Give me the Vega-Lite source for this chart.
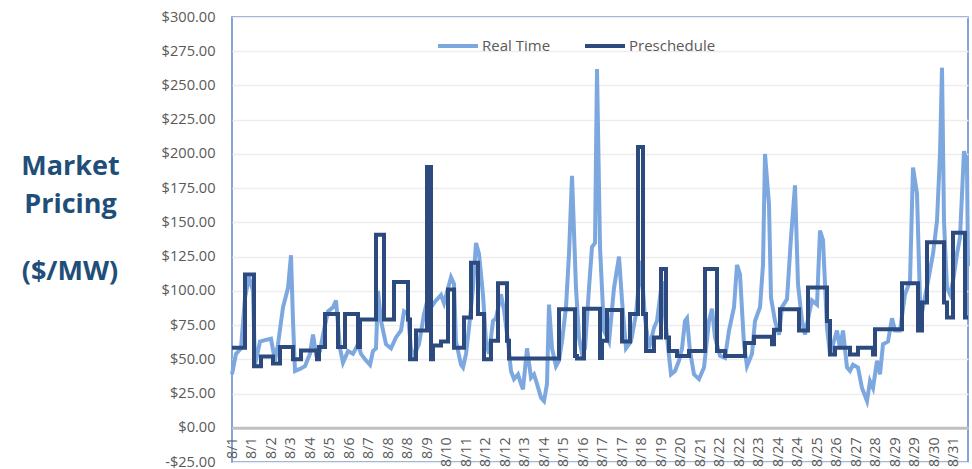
{
  "$schema": "https://vega.github.io/schema/vega-lite/v6.json",
  "width": 736,
  "height": 445,
  "autosize": {"type": "none"},
  "padding": {"left": 232, "top": 17, "right": 4, "bottom": 7},
  "background": "white",
  "config": {
    "view": {"stroke": "#5B87C8", "strokeWidth": 1.5},
    "font": "Open Sans"
  },
  "title": {
    "text": "($/MW)",
    "orient": "top",
    "anchor": "start",
    "frame": "group",
    "align": "center",
    "baseline": "alphabetic",
    "offset": 0,
    "dx": -162,
    "dy": 298,
    "font": "Open Sans",
    "fontSize": 27,
    "fontWeight": "bold",
    "color": "#1F4E79"
  },
  "data": {
    "values": [
      {"hour":0,"series":"Real Time","price":39},{"hour":4,"series":"Real Time","price":54},{"hour":9,"series":"Real Time","price":58},{"hour":13,"series":"Real Time","price":95},{"hour":17,"series":"Real Time","price":110},{"hour":21,"series":"Real Time","price":100},{"hour":23,"series":"Real Time","price":46},{"hour":28,"series":"Real Time","price":63},{"hour":33,"series":"Real Time","price":64},{"hour":39,"series":"Real Time","price":65},{"hour":43,"series":"Real Time","price":49},{"hour":46,"series":"Real Time","price":61},{"hour":51,"series":"Real Time","price":88},{"hour":56,"series":"Real Time","price":102},{"hour":59,"series":"Real Time","price":126},{"hour":61,"series":"Real Time","price":78},{"hour":63,"series":"Real Time","price":41.5},{"hour":68,"series":"Real Time","price":43},{"hour":73,"series":"Real Time","price":45},{"hour":78,"series":"Real Time","price":54},{"hour":81,"series":"Real Time","price":68},{"hour":84,"series":"Real Time","price":54},{"hour":88,"series":"Real Time","price":56},{"hour":91,"series":"Real Time","price":68},{"hour":96,"series":"Real Time","price":85},{"hour":101,"series":"Real Time","price":88},{"hour":104,"series":"Real Time","price":93},{"hour":108,"series":"Real Time","price":58},{"hour":111,"series":"Real Time","price":47.5},{"hour":116,"series":"Real Time","price":56},{"hour":121,"series":"Real Time","price":54},{"hour":126,"series":"Real Time","price":61},{"hour":129,"series":"Real Time","price":54},{"hour":133,"series":"Real Time","price":50},{"hour":138,"series":"Real Time","price":46},{"hour":141,"series":"Real Time","price":56},{"hour":144,"series":"Real Time","price":58},{"hour":146,"series":"Real Time","price":100},{"hour":149,"series":"Real Time","price":78},{"hour":154,"series":"Real Time","price":61},{"hour":159,"series":"Real Time","price":58},{"hour":164,"series":"Real Time","price":66},{"hour":169,"series":"Real Time","price":71},{"hour":172,"series":"Real Time","price":85},{"hour":176,"series":"Real Time","price":83},{"hour":179,"series":"Real Time","price":58},{"hour":182,"series":"Real Time","price":52.5},{"hour":187,"series":"Real Time","price":61},{"hour":192,"series":"Real Time","price":83},{"hour":196,"series":"Real Time","price":95},{"hour":199,"series":"Real Time","price":88},{"hour":204,"series":"Real Time","price":93},{"hour":209,"series":"Real Time","price":97},{"hour":212,"series":"Real Time","price":91},{"hour":219,"series":"Real Time","price":110},{"hour":222,"series":"Real Time","price":105},{"hour":224,"series":"Real Time","price":63},{"hour":229,"series":"Real Time","price":46},{"hour":231,"series":"Real Time","price":44},{"hour":234,"series":"Real Time","price":54},{"hour":237,"series":"Real Time","price":73},{"hour":241,"series":"Real Time","price":102},{"hour":244,"series":"Real Time","price":135},{"hour":247,"series":"Real Time","price":127},{"hour":251,"series":"Real Time","price":97},{"hour":254,"series":"Real Time","price":63},{"hour":257,"series":"Real Time","price":54},{"hour":261,"series":"Real Time","price":78},{"hour":264,"series":"Real Time","price":80},{"hour":269,"series":"Real Time","price":97.5},{"hour":272,"series":"Real Time","price":86},{"hour":276,"series":"Real Time","price":63},{"hour":279,"series":"Real Time","price":41.5},{"hour":282,"series":"Real Time","price":35.5},{"hour":286,"series":"Real Time","price":39},{"hour":289,"series":"Real Time","price":32},{"hour":291,"series":"Real Time","price":28},{"hour":295,"series":"Real Time","price":58},{"hour":299,"series":"Real Time","price":36.6},{"hour":302,"series":"Real Time","price":39},{"hour":305,"series":"Real Time","price":32},{"hour":309,"series":"Real Time","price":22},{"hour":312,"series":"Real Time","price":19.5},{"hour":315,"series":"Real Time","price":32},{"hour":317,"series":"Real Time","price":90},{"hour":320,"series":"Real Time","price":58},{"hour":324,"series":"Real Time","price":45},{"hour":327,"series":"Real Time","price":49},{"hour":330,"series":"Real Time","price":63},{"hour":334,"series":"Real Time","price":88},{"hour":337,"series":"Real Time","price":127},{"hour":340,"series":"Real Time","price":184},{"hour":344,"series":"Real Time","price":102},{"hour":347,"series":"Real Time","price":66},{"hour":350,"series":"Real Time","price":54},{"hour":353,"series":"Real Time","price":58},{"hour":357,"series":"Real Time","price":102},{"hour":360,"series":"Real Time","price":132},{"hour":363,"series":"Real Time","price":135},{"hour":365,"series":"Real Time","price":262},{"hour":368,"series":"Real Time","price":132},{"hour":372,"series":"Real Time","price":71},{"hour":377,"series":"Real Time","price":63},{"hour":382,"series":"Real Time","price":102},{"hour":387,"series":"Real Time","price":125},{"hour":390,"series":"Real Time","price":93},{"hour":394,"series":"Real Time","price":58},{"hour":399,"series":"Real Time","price":63},{"hour":404,"series":"Real Time","price":83},{"hour":409,"series":"Real Time","price":122},{"hour":413,"series":"Real Time","price":80},{"hour":417,"series":"Real Time","price":58},{"hour":422,"series":"Real Time","price":73},{"hour":425,"series":"Real Time","price":78},{"hour":430,"series":"Real Time","price":107},{"hour":435,"series":"Real Time","price":66},{"hour":439,"series":"Real Time","price":39},{"hour":443,"series":"Real Time","price":41.5},{"hour":447,"series":"Real Time","price":49},{"hour":450,"series":"Real Time","price":58},{"hour":453,"series":"Real Time","price":78},{"hour":455,"series":"Real Time","price":80},{"hour":458,"series":"Real Time","price":56},{"hour":462,"series":"Real Time","price":39},{"hour":467,"series":"Real Time","price":35.5},{"hour":472,"series":"Real Time","price":44},{"hour":477,"series":"Real Time","price":78},{"hour":480,"series":"Real Time","price":87},{"hour":483,"series":"Real Time","price":66},{"hour":488,"series":"Real Time","price":52.5},{"hour":493,"series":"Real Time","price":51},{"hour":497,"series":"Real Time","price":71},{"hour":502,"series":"Real Time","price":88},{"hour":505,"series":"Real Time","price":119},{"hour":508,"series":"Real Time","price":112},{"hour":512,"series":"Real Time","price":61},{"hour":515,"series":"Real Time","price":45},{"hour":520,"series":"Real Time","price":54},{"hour":523,"series":"Real Time","price":78},{"hour":528,"series":"Real Time","price":88},{"hour":531,"series":"Real Time","price":119},{"hour":533,"series":"Real Time","price":200},{"hour":537,"series":"Real Time","price":163},{"hour":539,"series":"Real Time","price":95},{"hour":543,"series":"Real Time","price":78},{"hour":547,"series":"Real Time","price":68},{"hour":550,"series":"Real Time","price":88},{"hour":555,"series":"Real Time","price":94},{"hour":559,"series":"Real Time","price":139},{"hour":563,"series":"Real Time","price":177},{"hour":566,"series":"Real Time","price":105},{"hour":570,"series":"Real Time","price":78},{"hour":573,"series":"Real Time","price":68},{"hour":577,"series":"Real Time","price":83},{"hour":580,"series":"Real Time","price":93},{"hour":585,"series":"Real Time","price":90},{"hour":588,"series":"Real Time","price":144},{"hour":591,"series":"Real Time","price":137},{"hour":595,"series":"Real Time","price":73},{"hour":598,"series":"Real Time","price":54},{"hour":601,"series":"Real Time","price":61},{"hour":605,"series":"Real Time","price":71},{"hour":608,"series":"Real Time","price":58},{"hour":611,"series":"Real Time","price":71},{"hour":615,"series":"Real Time","price":44},{"hour":618,"series":"Real Time","price":41.5},{"hour":621,"series":"Real Time","price":46},{"hour":626,"series":"Real Time","price":44},{"hour":630,"series":"Real Time","price":29},{"hour":635,"series":"Real Time","price":19.5},{"hour":638,"series":"Real Time","price":34},{"hour":641,"series":"Real Time","price":29},{"hour":645,"series":"Real Time","price":49},{"hour":648,"series":"Real Time","price":39},{"hour":651,"series":"Real Time","price":61},{"hour":656,"series":"Real Time","price":63},{"hour":660,"series":"Real Time","price":80},{"hour":663,"series":"Real Time","price":71},{"hour":668,"series":"Real Time","price":71},{"hour":673,"series":"Real Time","price":97.5},{"hour":678,"series":"Real Time","price":107},{"hour":681,"series":"Real Time","price":190},{"hour":685,"series":"Real Time","price":171},{"hour":688,"series":"Real Time","price":93},{"hour":691,"series":"Real Time","price":88},{"hour":696,"series":"Real Time","price":107},{"hour":701,"series":"Real Time","price":127},{"hour":705,"series":"Real Time","price":151},{"hour":708,"series":"Real Time","price":200},{"hour":710,"series":"Real Time","price":263},{"hour":712,"series":"Real Time","price":151},{"hour":715,"series":"Real Time","price":102},{"hour":718,"series":"Real Time","price":97.5},{"hour":721,"series":"Real Time","price":107},{"hour":725,"series":"Real Time","price":127},{"hour":728,"series":"Real Time","price":139},{"hour":732,"series":"Real Time","price":202},{"hour":735,"series":"Real Time","price":193},{"hour":736,"series":"Real Time","price":118},
      {"hour":0,"series":"Preschedule","price":58.5},{"hour":13,"series":"Preschedule","price":112},{"hour":22,"series":"Preschedule","price":45},{"hour":29,"series":"Preschedule","price":52},{"hour":41,"series":"Preschedule","price":47},{"hour":48,"series":"Preschedule","price":59},{"hour":61,"series":"Preschedule","price":50},{"hour":69,"series":"Preschedule","price":56.5},{"hour":85,"series":"Preschedule","price":50},{"hour":87,"series":"Preschedule","price":59},{"hour":93,"series":"Preschedule","price":83},{"hour":106,"series":"Preschedule","price":59},{"hour":113,"series":"Preschedule","price":83},{"hour":126,"series":"Preschedule","price":59},{"hour":128,"series":"Preschedule","price":79},{"hour":144,"series":"Preschedule","price":141},{"hour":152,"series":"Preschedule","price":79},{"hour":162,"series":"Preschedule","price":106.5},{"hour":176,"series":"Preschedule","price":79},{"hour":178,"series":"Preschedule","price":50},{"hour":184,"series":"Preschedule","price":71},{"hour":195,"series":"Preschedule","price":190.5},{"hour":199,"series":"Preschedule","price":50},{"hour":201,"series":"Preschedule","price":60},{"hour":209,"series":"Preschedule","price":63},{"hour":216,"series":"Preschedule","price":101},{"hour":222,"series":"Preschedule","price":58.5},{"hour":232,"series":"Preschedule","price":80.5},{"hour":239,"series":"Preschedule","price":120.5},{"hour":246,"series":"Preschedule","price":83},{"hour":252,"series":"Preschedule","price":50},{"hour":259,"series":"Preschedule","price":63.5},{"hour":266,"series":"Preschedule","price":105.5},{"hour":275,"series":"Preschedule","price":63.5},{"hour":277,"series":"Preschedule","price":50.5},{"hour":327,"series":"Preschedule","price":86.5},{"hour":343,"series":"Preschedule","price":52.5},{"hour":345,"series":"Preschedule","price":50.5},{"hour":352,"series":"Preschedule","price":87},{"hour":368,"series":"Preschedule","price":51},{"hour":370,"series":"Preschedule","price":63.5},{"hour":375,"series":"Preschedule","price":86},{"hour":390,"series":"Preschedule","price":63},{"hour":398,"series":"Preschedule","price":83},{"hour":406,"series":"Preschedule","price":205},{"hour":411,"series":"Preschedule","price":83},{"hour":414,"series":"Preschedule","price":56},{"hour":422,"series":"Preschedule","price":66},{"hour":429,"series":"Preschedule","price":116},{"hour":434,"series":"Preschedule","price":66},{"hour":437,"series":"Preschedule","price":56},{"hour":445,"series":"Preschedule","price":52.5},{"hour":457,"series":"Preschedule","price":56},{"hour":473,"series":"Preschedule","price":116},{"hour":485,"series":"Preschedule","price":56},{"hour":493,"series":"Preschedule","price":52.5},{"hour":513,"series":"Preschedule","price":62},{"hour":522,"series":"Preschedule","price":66.5},{"hour":540,"series":"Preschedule","price":61},{"hour":542,"series":"Preschedule","price":71.5},{"hour":548,"series":"Preschedule","price":86.5},{"hour":567,"series":"Preschedule","price":71},{"hour":576,"series":"Preschedule","price":102.5},{"hour":595,"series":"Preschedule","price":78},{"hour":598,"series":"Preschedule","price":53.5},{"hour":603,"series":"Preschedule","price":58.5},{"hour":618,"series":"Preschedule","price":53.5},{"hour":626,"series":"Preschedule","price":58.5},{"hour":641,"series":"Preschedule","price":53.5},{"hour":643,"series":"Preschedule","price":72},{"hour":670,"series":"Preschedule","price":105.5},{"hour":686,"series":"Preschedule","price":71},{"hour":690,"series":"Preschedule","price":91.5},{"hour":695,"series":"Preschedule","price":135.5},{"hour":712,"series":"Preschedule","price":91.5},{"hour":715,"series":"Preschedule","price":80.5},{"hour":721,"series":"Preschedule","price":142.5},{"hour":733,"series":"Preschedule","price":80.5},{"hour":736,"series":"Preschedule","price":80.5}
    ]
  },
  "encoding": {
    "x": {
      "field": "hour",
      "type": "quantitative",
      "scale": {"domain": [0, 736], "nice": false, "zero": false},
      "axis": {
        "title": null,
        "grid": false,
        "ticks": false,
        "offset": -34.2,
        "domainColor": "#C0C0C0",
        "domainWidth": 3,
        "values": [0,19.5,39,58.5,78,97.5,117,136.5,156,175.5,195,214.5,234,253.5,273,292.5,312,331.5,351,370.5,390,409.5,429,448.5,468,487.5,507,526.5,546,565.5,585,604.5,624,643.5,663,682.5,702,721.5],
        "labelExpr": "['8/1','8/1','8/2','8/3','8/4','8/5','8/6','8/7','8/8','8/8','8/9','8/10','8/11','8/12','8/12','8/13','8/14','8/15','8/16','8/17','8/17','8/18','8/19','8/20','8/21','8/22','8/22','8/23','8/24','8/24','8/25','8/26','8/27','8/28','8/29','8/29','8/30','8/31'][round(datum.value / 19.5)]",
        "labelAngle": -90,
        "labelAlign": "right",
        "labelBaseline": "middle",
        "labelFontSize": 14.3,
        "labelColor": "#595959",
        "labelPadding": 9,
        "labelOverlap": false,
        "labelFlush": false,
        "labelBound": false
      }
    },
    "y": {
      "field": "price",
      "type": "quantitative",
      "scale": {"domain": [-25, 300], "nice": false, "zero": false},
      "axis": {
        "values": [-25,0,25,50,75,100,125,150,175,200,225,250,275,300],
        "labelExpr": "(datum.value < 0 ? '-$' : '$') + format(abs(datum.value), '.2f')",
        "domain": false,
        "ticks": false,
        "gridColor": "#EDEDED",
        "gridWidth": 1.5,
        "labelFontSize": 14.6,
        "labelColor": "#595959",
        "labelPadding": 17,
        "title": ["Market", "Pricing"],
        "titleAngle": 0,
        "titleAlign": "center",
        "titleBaseline": "alphabetic",
        "titleX": -162,
        "titleY": 157,
        "titleFont": "Open Sans",
        "titleFontSize": 27,
        "titleFontWeight": "bold",
        "titleColor": "#1F4E79",
        "titleLineHeight": 38
      }
    },
    "color": {
      "field": "series",
      "type": "nominal",
      "scale": {"domain": ["Real Time", "Preschedule"], "range": ["#7DA7DF", "#2C4A7E"]},
      "legend": {
        "title": null,
        "orient": "none",
        "legendX": 204,
        "legendY": 7,
        "direction": "horizontal",
        "symbolType": "stroke",
        "symbolSize": 1600,
        "symbolStrokeWidth": 4,
        "labelFontSize": 15,
        "labelColor": "#595959",
        "labelOffset": 2,
        "columnPadding": 26,
        "padding": 0
      }
    }
  },
  "layer": [
    {
      "transform": [{"filter": "datum.series === 'Real Time'"}],
      "mark": {"type": "line", "strokeWidth": 4, "interpolate": "linear"}
    },
    {
      "transform": [{"filter": "datum.series === 'Preschedule'"}],
      "mark": {"type": "line", "strokeWidth": 4, "interpolate": "step-after"}
    }
  ]
}
